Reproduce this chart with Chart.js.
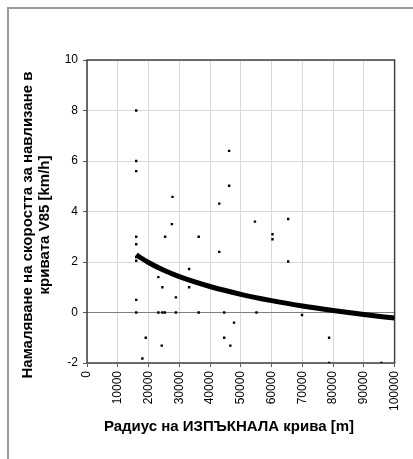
<!DOCTYPE html>
<html>
<head>
<meta charset="utf-8">
<script src="https://cdn.jsdelivr.net/npm/chart.js@4/dist/chart.umd.min.js"></script>
<style>
  body { margin: 0; background: #fff; }
  #wrap { position: relative; width: 413px; height: 459px; }
  #frame { position: absolute; left: 7px; top: 7px; right: -4px; bottom: -4px; border: 2px solid #9a9a9a; }
  canvas { position: absolute; left: 0; top: 0; }
</style>
</head>
<body>
<div id="wrap">
  <div id="frame"></div>
  <canvas id="scatterChart"></canvas>
</div>
<script>
// measured points: radius [m] and speed reduction [km/h]
const radius = [
  16000, 16000, 16000, 16000, 16000, 16000, 16000, 16000, 16000,
  18000, 19100, 23200, 23200, 24300, 24500, 24500, 25300, 25400,
  27600, 27800, 28900, 28900, 33200, 33200, 36300, 36300,
  43000, 43000, 44600, 44600, 46200, 46200, 46600, 47800,
  54600, 55100, 60300, 60300, 65400, 65400, 69900,
  78700, 78700, 95700,
];
const reduction = [
  8.0, 6.0, 5.6, 3.0, 2.7, 2.2, 2.05, 0.5, 0,
  -1.82, -1.0, 1.4, 0, -1.31, 1.0, 0, 0, 3.0,
  3.5, 4.58, 0.6, 0, 1.72, 1.0, 3.0, 0,
  4.31, 2.4, 0, -1.0, 6.4, 5.02, -1.31, -0.4,
  3.6, 0, 3.1, 2.9, 3.7, 2.02, -0.1,
  -1.0, -2.0, -2.0,
];

// trend line
const trendRadius = [16000, 20000, 25000, 30000, 40000, 50000, 60000, 70000, 80000, 90000, 100000];
const trendValue = [2.28, 1.98, 1.67, 1.42, 1.03, 0.72, 0.47, 0.26, 0.08, -0.08, -0.22];

const yTitle = ["Намаляване на скоростта за навлизане в", "кривата V85 [km/h]"];
const xTitle = "Радиус на ИЗПЪКНАЛА крива [m]";

const fontFamily = "'Liberation Sans', Arial, sans-serif";

const plotFrame = {
  id: "plotFrame",
  beforeDatasetsDraw(chart) {
    const { ctx, chartArea } = chart;
    ctx.save();
    ctx.strokeStyle = "#404040";
    ctx.lineWidth = 1.5;
    ctx.strokeRect(chartArea.left, chartArea.top, chartArea.right - chartArea.left, chartArea.bottom - chartArea.top);
    ctx.restore();
  },
  afterDraw(chart) {
    const { ctx, chartArea } = chart;
    ctx.save();
    ctx.fillStyle = "#000";
    ctx.font = `bold 15px ${fontFamily}`;
    ctx.textAlign = "center";
    ctx.textBaseline = "middle";
    // x title
    ctx.fillText(xTitle, chartArea.left + 142, chartArea.bottom + 64);
    // y title, two lines
    ctx.translate(chartArea.left - 51, chartArea.top + 165);
    ctx.rotate(-Math.PI / 2);
    ctx.fillText(yTitle[0], 0, -8);
    ctx.fillText(yTitle[1], 0, 9);
    ctx.restore();
  },
};

function renderScatter() {
  const points = [];
  for (let i = 0; i < radius.length; i++) {
    points.push({ x: radius[i], y: reduction[i] });
  }
  const trend = [];
  for (let i = 0; i < trendRadius.length; i++) {
    trend.push({ x: trendRadius[i], y: trendValue[i] });
  }

  const data = {
    datasets: [
      {
        label: "Измерени",
        type: "scatter",
        data: points,
        pointStyle: "rect",
        pointRadius: 1.7,
        backgroundColor: "#000",
        borderColor: "#000",
        borderWidth: 0,
      },
      {
        label: "Тренд",
        type: "line",
        data: trend,
        borderColor: "#000",
        borderWidth: 5,
        pointRadius: 0,
        cubicInterpolationMode: "monotone",
        fill: false,
      },
    ],
  };

  const config = {
    type: "scatter",
    data: data,
    options: {
      responsive: true,
      maintainAspectRatio: false,
      animation: false,
      layout: {
        padding: { left: 0, top: 60, right: 13, bottom: 0 },
      },
      plugins: {
        legend: { display: false },
        tooltip: { enabled: false },
      },
      scales: {
        x: {
          type: "linear",
          min: 0,
          max: 100000,
          afterFit: (scale) => {
            scale.height = 96;
          },
          ticks: {
            stepSize: 10000,
            minRotation: 90,
            maxRotation: 90,
            padding: 4,
            color: "#000",
            font: { family: fontFamily, size: 12 },
            callback: (value) => String(value),
          },
          grid: {
            color: "#d9d9d9",
            tickColor: "#595959",
            tickLength: 4,
          },
          border: { display: false },
        },
        y: {
          min: -2,
          max: 10,
          afterFit: (scale) => {
            scale.width = 87;
          },
          ticks: {
            stepSize: 2,
            padding: 5,
            color: "#000",
            font: { family: fontFamily, size: 12 },
          },
          grid: {
            color: (ctx) => (ctx.tick && ctx.tick.value === 0 ? "#7f7f7f" : "#d9d9d9"),
            tickColor: "#595959",
            tickLength: 4,
          },
          border: { display: false },
        },
      },
    },
    plugins: [plotFrame],
  };
  new Chart(document.getElementById("scatterChart"), config);
}

renderScatter();
</script>
</body>
</html>
